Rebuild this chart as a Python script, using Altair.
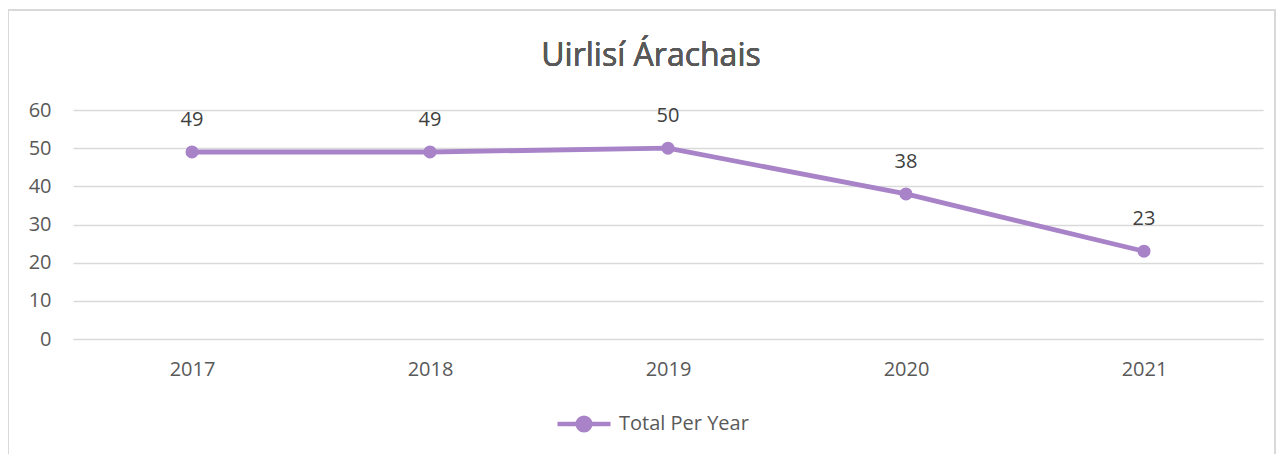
import altair as alt
import pandas as pd

years = ["2017", "2018", "2019", "2020", "2021"]
values = [49, 49, 50, 38, 23]
series = ["Total Per Year"] * len(years)

df = pd.DataFrame({"Year": years, "Value": values, "Series": series})

PURPLE = "#A883C8"
FONT = "Open Sans"
FS = 20
W, H = 1190, 229

x_enc = alt.X("Year:N", sort=years, scale=alt.Scale(type="point", padding=0.5),
              axis=alt.Axis(title=None, labelAngle=0, labelFontSize=FS, labelColor="#595959",
                            labelFont=FONT, labelPadding=20, ticks=False, domain=True,
                            domainColor="#D9D9D9", grid=False))
y_enc = alt.Y("Value:Q", scale=alt.Scale(domain=[0, 60], nice=False),
              axis=alt.Axis(title=None, values=[0, 10, 20, 30, 40, 50, 60], labelFontSize=FS,
                            labelColor="#595959", labelFont=FONT, labelPadding=22, ticks=False,
                            domain=False, gridColor="#D9D9D9", gridWidth=1.3, labelOverlap=False))

legend_path = ("M-1,0L1,0M-0.24,0A0.24,0.24,0,1,1,0.24,0A0.24,0.24,0,1,1,-0.24,0Z")

line = alt.Chart(df).mark_line(strokeWidth=4.8, point=alt.OverlayMarkDef(size=170, filled=True, color=PURPLE)).encode(
    x=x_enc, y=y_enc,
    color=alt.Color("Series:N", scale=alt.Scale(range=[PURPLE]),
                    legend=alt.Legend(title=None, orient="none", legendX=482, legendY=285,
                                      symbolType=legend_path, symbolSize=2809, symbolStrokeWidth=4.5,
                                      symbolFillColor=PURPLE, symbolStrokeColor=PURPLE,
                                      labelFontSize=FS, labelColor="#595959", labelFont=FONT,
                                      labelOffset=6, padding=0))
)

labels = alt.Chart(df).mark_text(fontSize=FS, color="#404040", font=FONT, dy=-32).encode(
    x=x_enc, y=y_enc, text="Value:Q"
)

border = alt.Chart(df).mark_rect(fill=None, stroke="#D9D9D9", strokeWidth=1.5, clip=False).encode(
    x=alt.value(-65), x2=alt.value(1202), y=alt.value(-100), y2=alt.value(360)
)

title = alt.Chart(df).mark_text(fontSize=32, fontWeight="normal", color="#595959", font=FONT,
                                baseline="middle", align="center").encode(
    x=alt.value(578), y=alt.value(-54), text=alt.value("Uirlisí Árachais")
)

chart = alt.layer(border, line, labels, title).properties(
    width=W, height=H,
    background="white",
    padding={"left": 65, "top": 102, "right": 13, "bottom": 115},
    autosize=alt.AutoSizeParams(type="none"),
).configure_view(strokeWidth=0, stroke="transparent")

chart.save("out.html", embed_options={"renderer": "svg", "actions": False})
